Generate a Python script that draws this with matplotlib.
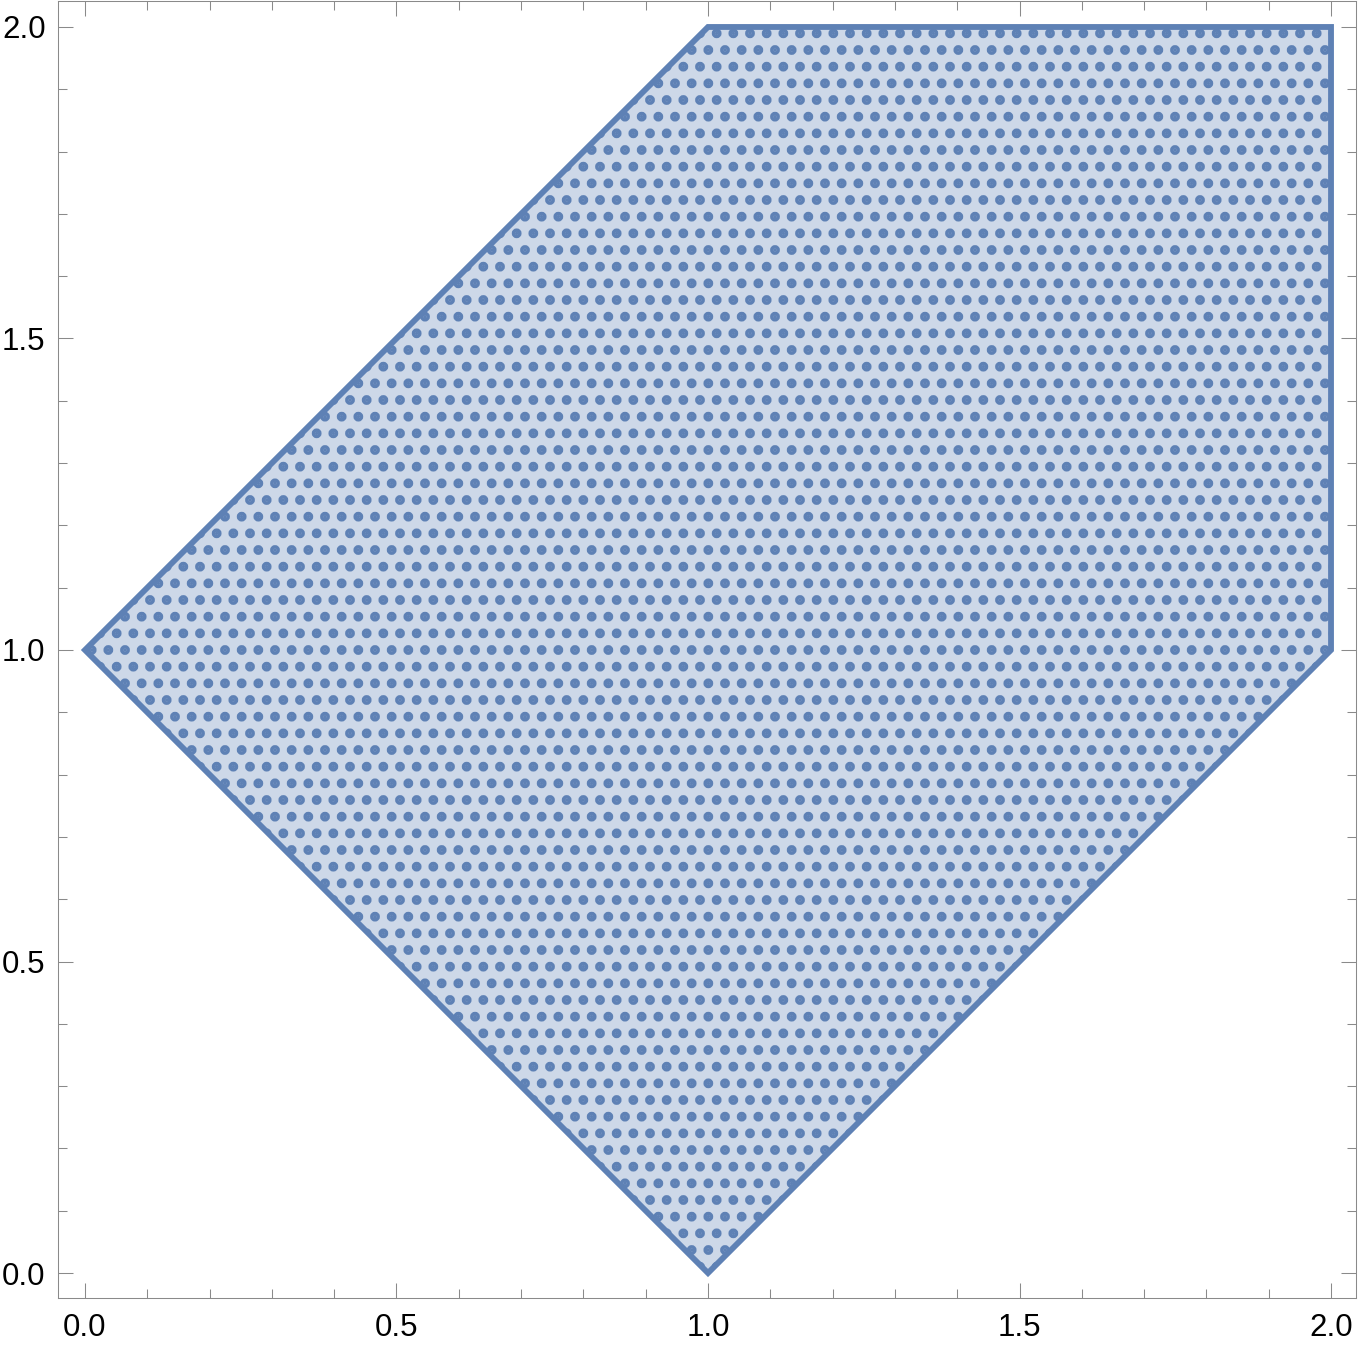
import matplotlib
matplotlib.use("Agg")
from matplotlib import pyplot as plt
from matplotlib import patches
from matplotlib.ticker import MultipleLocator
import numpy as np

# region boundary
region_x = [0.0, 1.0, 2.0, 2.0, 1.0]
region_y = [1.0, 2.0, 2.0, 1.0, 0.0]

x_ticks = [0.0, 0.5, 1.0, 1.5, 2.0]
y_ticks = [0.0, 0.5, 1.0, 1.5, 2.0]
x_tick_labels = ['0.0', '0.5', '1.0', '1.5', '2.0']
y_tick_labels = ['0.0', '0.5', '1.0', '1.5', '2.0']

dot_color = '#5e81b5'
fill_color = '#cdd8e8'
frame_color = '#8a8a8a'

plt.rcParams['font.family'] = ['Liberation Sans', 'DejaVu Sans']
# the sampled points are shown as a dot texture (hatch), not as invented data
plt.rcParams['hatch.linewidth'] = 4.6

dpi = 100
fig = plt.figure(figsize=(1358 / dpi, 1350 / dpi), dpi=dpi)
ax = fig.add_axes([58 / 1358, 52 / 1350, 1298 / 1358, 1297 / 1350])

verts = np.column_stack([region_x, region_y])
dots = patches.Polygon(verts, closed=True, facecolor=fill_color,
                       edgecolor=dot_color, linewidth=0, hatch='.', zorder=1)
ax.add_patch(dots)
ax.add_patch(patches.Polygon(verts, closed=True, facecolor='none',
                             edgecolor=dot_color, linewidth=4.2,
                             joinstyle='miter', zorder=2))

ax.set_xlim(-0.0433, 2.0401)
ax.set_ylim(-0.0401, 2.0417)

ax.set_xticks(x_ticks)
ax.set_xticklabels(x_tick_labels)
ax.set_yticks(y_ticks)
ax.set_yticklabels(y_tick_labels)
ax.xaxis.set_minor_locator(MultipleLocator(0.1))
ax.yaxis.set_minor_locator(MultipleLocator(0.1))

ax.tick_params(which='both', direction='in', top=True, right=True,
               color=frame_color, width=0.75, labelsize=22.5, labelcolor='black')
ax.tick_params(which='major', length=10.5)
ax.tick_params(which='minor', length=6.3)
ax.tick_params(axis='x', which='major', pad=10.5)
ax.tick_params(axis='y', which='major', pad=9)

for s in ax.spines.values():
    s.set_color(frame_color)
    s.set_linewidth(0.75)

fig.savefig('out.png', dpi=dpi)
